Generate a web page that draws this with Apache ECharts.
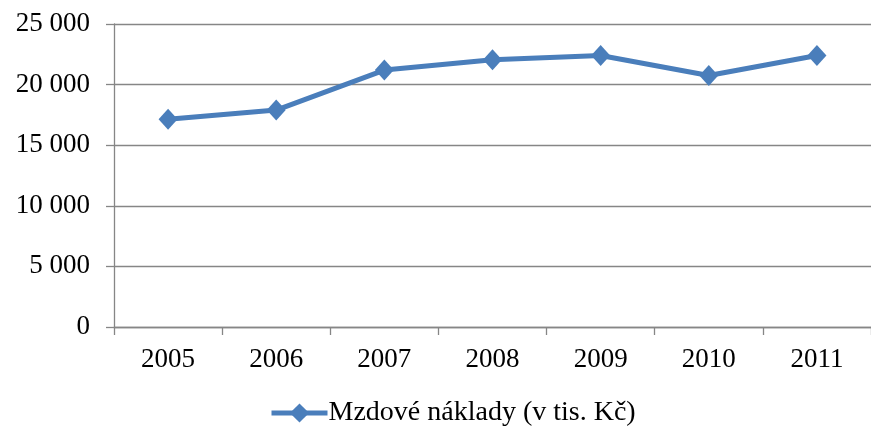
<!DOCTYPE html>
<html>
<head>
<meta charset="utf-8">
<script src="https://cdn.jsdelivr.net/npm/echarts@6/dist/echarts.min.js"></script>
<style>
html,body{margin:0;padding:0;background:#fff;}
#c{width:871px;height:430px;}
</style>
</head>
<body>
<div id="c"></div>
<script>
var years = ['2005', '2006', '2007', '2008', '2009', '2010', '2011'];
var wageCosts = [17150, 17900, 21200, 22050, 22400, 20750, 22400];
var seriesName = 'Mzdové náklady (v tis. Kč)';
var yMin = 0, yMax = 25000, yStep = 5000;

function fmt(v) {
  var s = String(Math.round(v));
  return s.replace(/\B(?=(\d{3})+(?!\d))/g, ' ');
}

var chart = echarts.init(document.getElementById('c'), null, {renderer: 'canvas'});
var font = '"Liberation Serif", "Times New Roman", serif';
var gray = '#868686';
chart.setOption({
  animation: false,
  backgroundColor: '#fff',
  grid: {left: 114, top: 24, right: -10, bottom: 103, containLabel: false},
  legend: {
    data: [seriesName],
    left: 264,
    top: 394,
    itemWidth: 56,
    itemHeight: 24,
    itemGap: 2,
    lineStyle: {width: 5},
    textStyle: {fontFamily: font, fontSize: 28, color: '#000', padding: [0,0,0,-4]}
  },
  xAxis: {
    type: 'category',
    data: years,
    boundaryGap: true,
    axisLine: {lineStyle: {color: gray, width: 1.3}},
    axisTick: {show: true, length: 8, lineStyle: {color: gray, width: 1.3}},
    axisLabel: {fontFamily: font, fontSize: 27, color: '#000', margin: 19}
  },
  yAxis: {
    type: 'value',
    min: yMin, max: yMax, interval: yStep,
    axisLine: {show: true, lineStyle: {color: gray, width: 1.3}},
    axisTick: {show: true, length: 8, lineStyle: {color: gray, width: 1.3}},
    splitLine: {show: true, lineStyle: {color: gray, width: 1.3}},
    axisLabel: {fontFamily: font, fontSize: 27, color: '#000', margin: 24, formatter: fmt}
  },
  series: [{
    name: seriesName,
    type: 'line',
    data: wageCosts,
    symbol: 'diamond',
    symbolSize: [19, 21],
    lineStyle: {color: '#4A7EBB', width: 5},
    itemStyle: {color: '#4A7EBB'}
  }]
});
</script>
</body>
</html>
